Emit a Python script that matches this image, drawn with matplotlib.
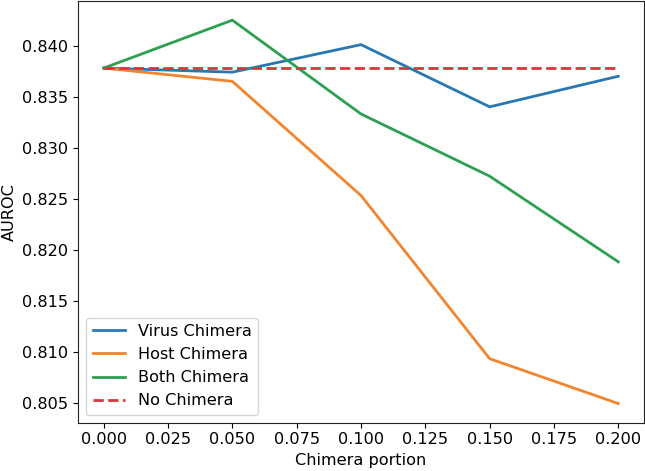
import matplotlib
matplotlib.use("Agg")
import matplotlib.pyplot as plt

# Chimera portion values
portions = [0.0, 0.05, 0.10, 0.15, 0.20]

# AUROC per setting
virus_chimera = [0.8378, 0.8374, 0.8401, 0.8340, 0.8370]
host_chimera = [0.8378, 0.8365, 0.8253, 0.8093, 0.8049]
both_chimera = [0.8378, 0.8425, 0.8333, 0.8272, 0.8188]
no_chimera = [0.8378, 0.8378, 0.8378, 0.8378, 0.8378]

plt.rcParams['font.size'] = 11.6
plt.rcParams['lines.linewidth'] = 2.0

fig = plt.figure(figsize=(6.45, 4.71), dpi=100)
ax = fig.add_axes([78 / 645, 1 - 422.7 / 471, (644 - 78) / 645, (422.7 - 1) / 471])

ax.plot(portions, virus_chimera, color='#2878b4', label="Virus Chimera")
ax.plot(portions, host_chimera, color='#f2852e', label="Host Chimera")
ax.plot(portions, both_chimera, color='#2ca050', label="Both Chimera")
ax.plot(portions, no_chimera, color='#d8363a', linestyle='--', label="No Chimera")

ax.set_xticks([0.0, 0.025, 0.05, 0.075, 0.1, 0.125, 0.15, 0.175, 0.2])
ax.set_yticks([0.805, 0.810, 0.815, 0.820, 0.825, 0.830, 0.835, 0.840])
for s in ax.spines.values():
    s.set_color('#222222')
ax.set_xlabel("Chimera portion")
ax.set_ylabel("AUROC")
ax.legend(loc='lower left')

fig.savefig('out.png', dpi=100)
